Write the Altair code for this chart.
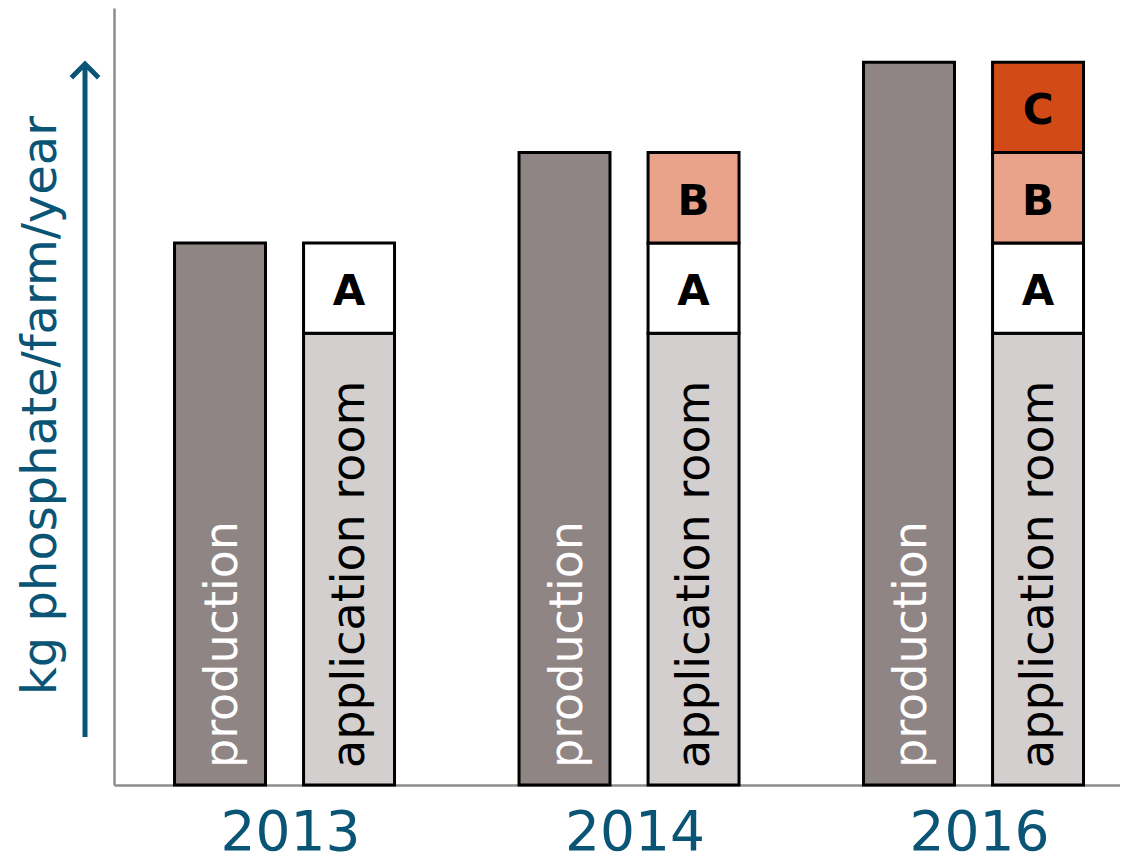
import altair as alt
import pandas as pd

# ---- data ----
years = ["2013", "2014", "2016"]
bars = ["production", "application room"]
production = [6, 7, 8]
app_base = [5, 5, 5]
seg_A = [1, 1, 1]
seg_B = [0, 1, 1]
seg_C = [0, 0, 1]
segments = ["production", "base", "A", "B", "C"]
seg_colors = ["#8f8584", "#d3cfce", "#ffffff", "#e8a38a", "#d24a17"]
y_title = "kg phosphate/farm/year"
arrow_from = [0.53]
arrow_to = [7.98]

teal = "#0a5475"
grey_axis = "#8c8c8c"

rows = []
for i, yr in enumerate(years):
    rows.append(dict(year=yr, bar="production", segment="production", value=production[i], order=0, label="production"))
    rows.append(dict(year=yr, bar="application room", segment="base", value=app_base[i], order=0, label="application room"))
    for seg, vals, o in (("A", seg_A, 1), ("B", seg_B, 2), ("C", seg_C, 3)):
        if vals[i] > 0:
            rows.append(dict(year=yr, bar="application room", segment=seg, value=vals[i], order=o, label=seg))
df = pd.DataFrame(rows)
arrow_df = pd.DataFrame({"a0": arrow_from, "a1": arrow_to})

y_axis = alt.Axis(
    ticks=False, labels=False, grid=False,
    domainColor=grey_axis, domainWidth=2.5,
    titleFontSize=48, titleColor=teal, titleFont="DejaVu Sans", titleFontWeight="normal",
    titleAngle=270, titleX=-59, titleY=397, titleAlign="center", titleBaseline="alphabetic",
)
y_scale = alt.Scale(domain=[0, 8.6], nice=False, zero=True)

x_enc = alt.X(
    "year:N", sort=years, title=None,
    scale=alt.Scale(paddingInner=0.3614, paddingOuter=0.1408, align=0.624),
    axis=alt.Axis(ticks=False, domainColor=grey_axis, domainWidth=2.5,
                  labelFontSize=55, labelColor=teal, labelFont="DejaVu Sans",
                  labelPadding=21, labelOffset=6, labelAngle=0),
)
xo_enc = alt.XOffset("bar:N", sort=bars, scale=alt.Scale(paddingInner=0.295, paddingOuter=0))

base = alt.Chart(df).transform_stack(
    stack="value", groupby=["year", "bar"], sort=[alt.SortField("order")], as_=["v0", "v1"]
)

bar_layer = base.mark_bar(stroke="black", strokeWidth=3).encode(
    x=x_enc, xOffset=xo_enc,
    y=alt.Y("v0:Q", scale=y_scale, axis=y_axis, title=y_title),
    y2="v1:Q",
    color=alt.Color("segment:N", scale=alt.Scale(domain=segments, range=seg_colors), legend=None),
)

prod_text = base.transform_filter(alt.datum.segment == "production").mark_text(
    angle=270, align="left", baseline="alphabetic", dx=17, dy=17,
    fontSize=46, font="DejaVu Sans", color="white",
).encode(x=x_enc, xOffset=xo_enc, y=alt.Y("v0:Q", scale=y_scale, axis=y_axis, title=y_title), text="label:N")

app_text = base.transform_filter(alt.datum.segment == "base").mark_text(
    angle=270, align="left", baseline="alphabetic", dx=17, dy=15,
    fontSize=46, font="DejaVu Sans", color="black",
).encode(x=x_enc, xOffset=xo_enc, y=alt.Y("v0:Q", scale=y_scale, axis=y_axis, title=y_title), text="label:N")

letter_text = base.transform_filter(
    alt.FieldOneOfPredicate(field="segment", oneOf=["A", "B", "C"])
).transform_calculate(mid="(datum.v0 + datum.v1) / 2").mark_text(
    align="center", baseline="middle", dy=4, fontSize=42, fontWeight="bold",
    font="DejaVu Sans", color="black",
).encode(x=x_enc, xOffset=xo_enc, y=alt.Y("mid:Q", scale=y_scale, axis=y_axis, title=y_title), text="label:N")

arrow_line = alt.Chart(arrow_df).mark_rule(color=teal, strokeWidth=5).encode(
    x=alt.value(-29),
    y=alt.Y("a0:Q", scale=y_scale, axis=y_axis, title=y_title),
    y2=alt.Y2("a1:Q"),
)
arrow_head = alt.Chart(arrow_df).mark_point(
    shape="M-1,1L0,0L1,1", filled=False, stroke=teal, strokeWidth=5, size=750, opacity=1,
).encode(
    x=alt.value(-29),
    y=alt.Y("a1:Q", scale=y_scale, axis=y_axis, title=y_title),
)

chart = alt.layer(bar_layer, prod_text, app_text, letter_text, arrow_line, arrow_head).properties(
    width=1006, height=777,
    padding={"left": 106, "top": 0, "right": 0, "bottom": 72},
    autosize=alt.AutoSizeParams(type="none"),
).configure_view(stroke=None)

chart.save("out.html", embed_options={"renderer": "svg", "actions": False})
